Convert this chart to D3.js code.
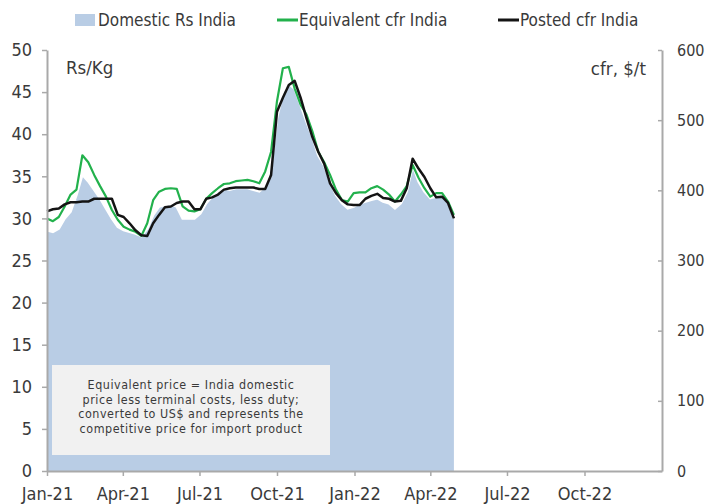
<!DOCTYPE html>
<html>
<head>
<meta charset="utf-8">
<script src="https://cdn.jsdelivr.net/npm/d3@7"></script>
<style>
  body { margin: 0; background: #fff; }
  svg { display: block; font-family: "DejaVu Sans Condensed", "DejaVu Sans", sans-serif; }
</style>
</head>
<body>
<div id="chart"></div>
<script>
// Weekly series, first week 1 Jan 2021
const firstWeek = "2021-01-01";

// Domestic price, Rs/Kg (left axis)
const domestic = [
  28.6, 28.4, 28.8, 30.0, 30.8, 32.8, 35.2, 34.4, 33.4, 32.4,
  31.2, 30.0, 29.0, 28.6, 28.4, 28.2, 27.9, 28.8, 30.4, 31.4,
  31.6, 31.7, 31.4, 30.0, 30.0, 30.0, 30.6, 31.8, 32.6, 33.2,
  33.6, 33.4, 33.6, 33.6, 33.6, 33.4, 33.2, 33.8, 36.3, 41.9,
  45.0, 46.0, 45.4, 43.5, 41.5, 39.7, 37.5, 36.3, 34.4, 32.8,
  31.8, 31.2, 31.4, 31.8, 32.0, 32.2, 32.4, 32.0, 31.8, 31.2,
  31.8, 33.2, 36.3, 34.4, 33.2, 32.4, 32.6, 32.8, 32.0, 30.0
];

// Equivalent cfr India, $/t (right axis)
const equivalent = [
  360, 356, 362, 377, 394, 401, 450, 440, 422, 406,
  391, 372, 358, 348, 344, 341, 335, 353, 386, 398,
  402, 403, 402, 377, 371, 370, 373, 388, 396, 403,
  409, 410, 413, 414, 415, 413, 410, 427, 455, 527,
  574, 576, 545, 522, 508, 484, 455, 440, 422, 401,
  386, 384, 396, 397, 397, 403, 406, 401, 394, 384,
  394, 406, 436, 418, 403, 391, 396, 396, 384, 365
];

// Posted cfr India, $/t (right axis)
const posted = [
  370, 373, 374, 380, 383, 383, 384, 384, 388, 388,
  388, 388, 365, 362, 353, 343, 336, 335, 353, 365,
  376, 377, 382, 384, 384, 373, 373, 388, 390, 394,
  401, 403, 404, 404, 404, 404, 402, 402, 422, 512,
  532, 550, 556, 532, 503, 476, 455, 438, 410, 396,
  386, 380, 379, 379, 388, 392, 395, 389, 388, 384,
  385, 403, 445, 431, 419, 403, 390, 391, 382, 360
];

const leftTicks = [0, 5, 10, 15, 20, 25, 30, 35, 40, 45, 50];
const rightTicks = [0, 100, 200, 300, 400, 500, 600];
const quarterDates = ["2021-01-01", "2021-04-01", "2021-07-01", "2021-10-01",
                      "2022-01-01", "2022-04-01", "2022-07-01", "2022-10-01"];
const quarterLabels = ["Jan-21", "Apr-21", "Jul-21", "Oct-21", "Jan-22", "Apr-22", "Jul-22", "Oct-22"];
const xDomain = ["2021-01-01", "2023-01-01"];

const legendNames = ["Domestic Rs India", "Equivalent cfr India", "Posted cfr India"];
const noteLines = [
  "Equivalent price = India domestic",
  "price less terminal costs, less duty;",
  "converted to US$ and represents the",
  "competitive price for import product"
];

const width = 707, height = 504;
const margin = { top: 50, right: 45, bottom: 33, left: 47 };
const parse = d3.utcParse("%Y-%m-%d");

const start = parse(firstWeek);
const dates = domestic.map((d, i) => d3.utcDay.offset(start, 7 * i));

const svg = d3.select("#chart").append("svg")
  .attr("width", width)
  .attr("height", height);

// Scales
const x = d3.scaleUtc()
  .domain(xDomain.map(parse))
  .range([margin.left, width - margin.right]);

const yL = d3.scaleLinear()
  .domain([0, 50])
  .range([height - margin.bottom, margin.top]);

const yR = d3.scaleLinear()
  .domain([0, 600])
  .range([height - margin.bottom, margin.top]);

const axisColor = "#a9a9a9";
const textColor = "#3a3a3a";

// Domestic area
const area = d3.area()
  .x((d, i) => x(dates[i]))
  .y0(yL(0))
  .y1(d => yL(d));

svg.append("path")
  .datum(domestic)
  .attr("fill", "#b9cde5")
  .attr("d", area);

svg.append("path")
  .datum(domestic)
  .attr("fill", "none")
  .attr("stroke", "#fff")
  .attr("stroke-width", 2.5)
  .attr("d", d3.line().x((d, i) => x(dates[i])).y(d => yL(d)));

// Note box
const box = svg.append("g");
box.append("rect")
  .attr("x", 52).attr("y", 365)
  .attr("width", 278).attr("height", 90)
  .attr("fill", "#f1f1f1");

box.selectAll("text")
  .data(noteLines)
  .join("text")
  .attr("x", 191)
  .attr("y", (d, i) => 389 + i * 14.6)
  .attr("text-anchor", "middle")
  .style("font-size", "12.4px")
  .style("letter-spacing", "0.55px")
  .attr("fill", textColor)
  .text(d => d);

// Lines on right axis
const rLine = d3.line()
  .x((d, i) => x(dates[i]))
  .y(d => yR(d));

svg.append("path")
  .datum(equivalent)
  .attr("fill", "none")
  .attr("stroke", "#22b14c")
  .attr("stroke-width", 2.2)
  .attr("stroke-linejoin", "round")
  .attr("d", rLine);

svg.append("path")
  .datum(posted)
  .attr("fill", "none")
  .attr("stroke", "#141414")
  .attr("stroke-width", 2.5)
  .attr("stroke-linejoin", "round")
  .attr("d", rLine);

// Axes
function styleAxis(size) {
  return g => {
    g.attr("font-family", null).attr("font-size", null);
    g.select(".domain").attr("stroke", axisColor).attr("stroke-width", 2);
    g.selectAll(".tick line").attr("stroke", axisColor).attr("stroke-width", 1.5);
    g.selectAll(".tick text").attr("fill", textColor).style("font-size", size);
  };
}

svg.append("g")
  .attr("transform", `translate(${margin.left},0)`)
  .call(d3.axisLeft(yL).tickValues(leftTicks).tickSize(5).tickSizeOuter(0).tickPadding(10))
  .call(styleAxis("18px"));

svg.append("g")
  .attr("transform", `translate(${width - margin.right},0)`)
  .call(d3.axisRight(yR).tickValues(rightTicks).tickSize(-4).tickSizeOuter(0).tickPadding(15))
  .call(styleAxis("16px"));

svg.append("g")
  .attr("transform", `translate(0,${height - margin.bottom})`)
  .call(d3.axisBottom(x)
    .tickValues(quarterDates.map(parse))
    .tickFormat((d, i) => quarterLabels[i])
    .tickSize(5).tickSizeOuter(0).tickPadding(11))
  .call(styleAxis("18px"));

// Unit labels
svg.append("text")
  .attr("x", 66).attr("y", 74)
  .attr("fill", textColor)
  .style("font-size", "18.5px")
  .text("Rs/Kg");

svg.append("text")
  .attr("x", 646).attr("y", 75)
  .attr("text-anchor", "end")
  .attr("fill", textColor)
  .style("font-size", "18.5px")
  .text("cfr, $/t");

// Legend
const legend = svg.append("g").style("font-size", "17px");
const legendX = [75, 277, 498];

legend.append("rect")
  .attr("x", legendX[0]).attr("y", 14)
  .attr("width", 20).attr("height", 12)
  .attr("fill", "#b9cde5");

legend.append("line")
  .attr("x1", legendX[1]).attr("x2", legendX[1] + 21)
  .attr("y1", 20).attr("y2", 20)
  .attr("stroke", "#22b14c").attr("stroke-width", 3);

legend.append("line")
  .attr("x1", legendX[2]).attr("x2", legendX[2] + 21)
  .attr("y1", 20).attr("y2", 20)
  .attr("stroke", "#141414").attr("stroke-width", 3);

legend.selectAll("text.name")
  .data(legendNames)
  .join("text")
  .attr("class", "name")
  .attr("x", (d, i) => legendX[i] + (i === 0 ? 23 : 22))
  .attr("y", 26)
  .attr("fill", textColor)
  .text(d => d);
</script>
</body>
</html>
